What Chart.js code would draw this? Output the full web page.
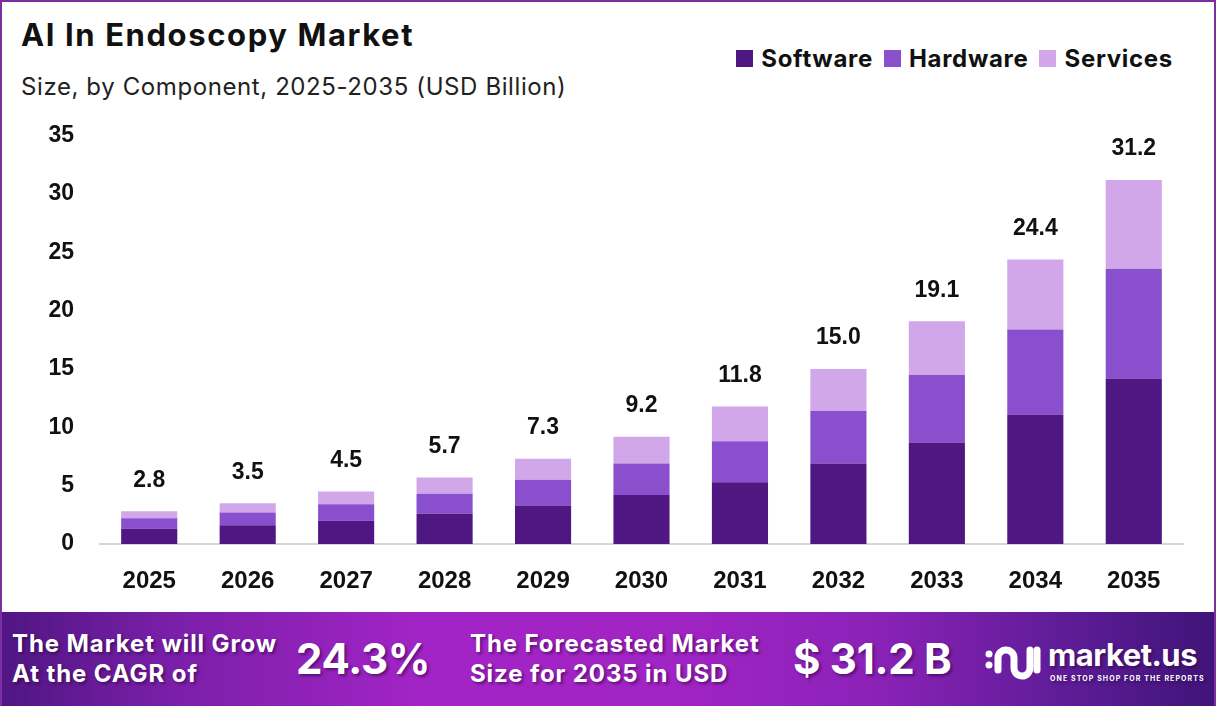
<!DOCTYPE html>
<html>
<head>
<meta charset="utf-8">
<script src="https://cdn.jsdelivr.net/npm/chart.js@4.4.1/dist/chart.umd.min.js"></script>
<style>
  html, body { margin: 0; padding: 0; background: #fff; }
  #frame {
    position: relative; width: 1216px; height: 706px; box-sizing: border-box;
    border: 2px solid #7b2fa3; border-bottom: none; overflow: hidden;
    font-family: Inter, "Open Sans", sans-serif; color: #111;
  }
  #title { position: absolute; left: 19px; top: 14px; font-size: 31px; font-weight: 700; letter-spacing: 1.6px; }
  #subtitle { position: absolute; left: 19px; top: 70px; font-size: 24px; font-weight: 400; color: #222; letter-spacing: 0.6px; }
  #legend { position: absolute; right: 41px; top: 42px; display: flex; align-items: center; font-size: 24px; font-weight: 700; letter-spacing: 0.7px; }
  #legend span.box { display: inline-block; width: 17px; height: 17px; margin-right: 8px; }
  #legend span.item { display: flex; align-items: center; margin-left: 11px; }
  #chartWrap { position: absolute; left: -2px; top: 102px; width: 1216px; height: 508px; }
  #footer {
    position: absolute; left: -2px; top: 610px; width: 1216px; height: 96px;
    background: linear-gradient(90deg, #4f1682 0%, #7a1fa8 14%, #a324c6 35%, #a124c4 55%, #8b22b8 72%, #5d1c96 88%, #3f1478 100%);
    color: #fff; font-weight: 700;
  }
  #footer div { position: absolute; text-shadow: 2px 2px 3px rgba(40,0,60,0.55); }
  .lines { font-size: 24px; line-height: 30px; letter-spacing: 0.9px; }
  .big { font-size: 42px; letter-spacing: -0.3px; }
  #logoText { font-size: 31px; letter-spacing: -0.5px; }
  #tag { font-size: 7px; letter-spacing: 1.1px; }
</style>
</head>
<body>
<div id="frame">
  <div id="title">AI In Endoscopy Market</div>
  <div id="subtitle">Size, by Component, 2025-2035 (USD Billion)</div>
  <div id="legend"></div>
  <div id="chartWrap"><canvas id="marketChart"></canvas></div>
  <div id="footer">
    <div class="lines" style="left:12px; top:17px;">The Market will Grow<br>At the CAGR of</div>
    <div class="big" style="left:296px; top:21px;">24.3%</div>
    <div class="lines" style="left:470px; top:17px;">The Forecasted Market<br>Size for 2035 in USD</div>
    <div class="big" style="left:793px; top:21px;">$ 31.2 B</div>
    <svg style="position:absolute; left:985px; top:28px;" width="58" height="44" viewBox="0 0 58 44">
      <circle cx="4" cy="14" r="3.5" fill="#fff"/>
      <circle cx="4" cy="25" r="3.5" fill="#fff"/>
      <path d="M13 30 V18 a8 8 0 0 1 16 0 V28 a8 8 0 0 0 16 0 V10" stroke="#fff" stroke-width="7" fill="none" stroke-linecap="round"/>
      <path d="M52 10 V30" stroke="#fff" stroke-width="7" stroke-linecap="round"/>
    </svg>
    <div id="logoText" style="left:1048px; top:24px;">market.us</div>
    <div id="tag" style="left:1050px; top:62px;">ONE STOP SHOP FOR THE REPORTS</div>
  </div>
</div>
<script>
const years = ['2025', '2026', '2027', '2028', '2029', '2030', '2031', '2032', '2033', '2034', '2035'];
const software = [1.3, 1.6, 2.0, 2.6, 3.3, 4.2, 5.3, 6.9, 8.7, 11.1, 14.2];
const hardware = [0.9, 1.1, 1.4, 1.7, 2.2, 2.7, 3.5, 4.5, 5.8, 7.3, 9.4];
const services = [0.6, 0.8, 1.1, 1.4, 1.8, 2.3, 3.0, 3.6, 4.6, 6.0, 7.6];
const totals = [2.8, 3.5, 4.5, 5.7, 7.3, 9.2, 11.8, 15.0, 19.1, 24.4, 31.2];
const yTicks = [0, 5, 10, 15, 20, 25, 30, 35];

const seriesNames = ['Software', 'Hardware', 'Services'];
const seriesColors = ['#4e1782', '#8a4fcc', '#d1a7ea'];

const numFont = '"Liberation Sans", Arial, sans-serif';

// html legend
const legendEl = document.getElementById('legend');
seriesNames.forEach((name, i) => {
  const item = document.createElement('span');
  item.className = 'item';
  item.innerHTML = '<span class="box" style="background:' + seriesColors[i] + '"></span>' + name;
  legendEl.appendChild(item);
});

// totals above each stack
const totalLabels = {
  id: 'totalLabels',
  afterDatasetsDraw(chart) {
    const ctx = chart.ctx;
    const meta = chart.getDatasetMeta(2);
    ctx.save();
    ctx.font = '700 23px ' + numFont;
    ctx.fillStyle = '#111';
    ctx.textAlign = 'center';
    ctx.textBaseline = 'middle';
    meta.data.forEach((bar, i) => {
      ctx.fillText(totals[i].toFixed(1), bar.x, bar.y - 31);
    });
    ctx.restore();
  }
};

const chartData = {
  labels: years,
  datasets: [software, hardware, services].map((vals, i) => ({
    label: seriesNames[i],
    data: vals,
    backgroundColor: seriesColors[i],
    barPercentage: 0.57,
    categoryPercentage: 1
  }))
};

const chartOptions = {
  responsive: true,
  maintainAspectRatio: false,
  animation: false,
  layout: { padding: { top: 7, right: 33, left: 0, bottom: 0 } },
  scales: {
    x: {
      stacked: true,
      grid: { display: false },
      border: { display: true, color: '#d6d6d6', width: 2 },
      ticks: { color: '#111', padding: 15, font: { family: numFont, size: 24, weight: '700' } },
      afterFit: s => { s.height = 68; }
    },
    y: {
      stacked: true,
      min: 0,
      max: 35,
      grid: { display: false },
      border: { display: false },
      afterBuildTicks: s => { s.ticks = yTicks.map(v => ({ value: v })); },
      ticks: { color: '#111', padding: 18, font: { family: numFont, size: 23, weight: '700' } },
      afterFit: s => { s.width = 100; }
    }
  },
  plugins: {
    legend: { display: false },
    tooltip: { enabled: false }
  }
};

new Chart(document.getElementById('marketChart'), {
  type: 'bar',
  data: chartData,
  options: chartOptions,
  plugins: [totalLabels]
});
</script>
</body>
</html>
